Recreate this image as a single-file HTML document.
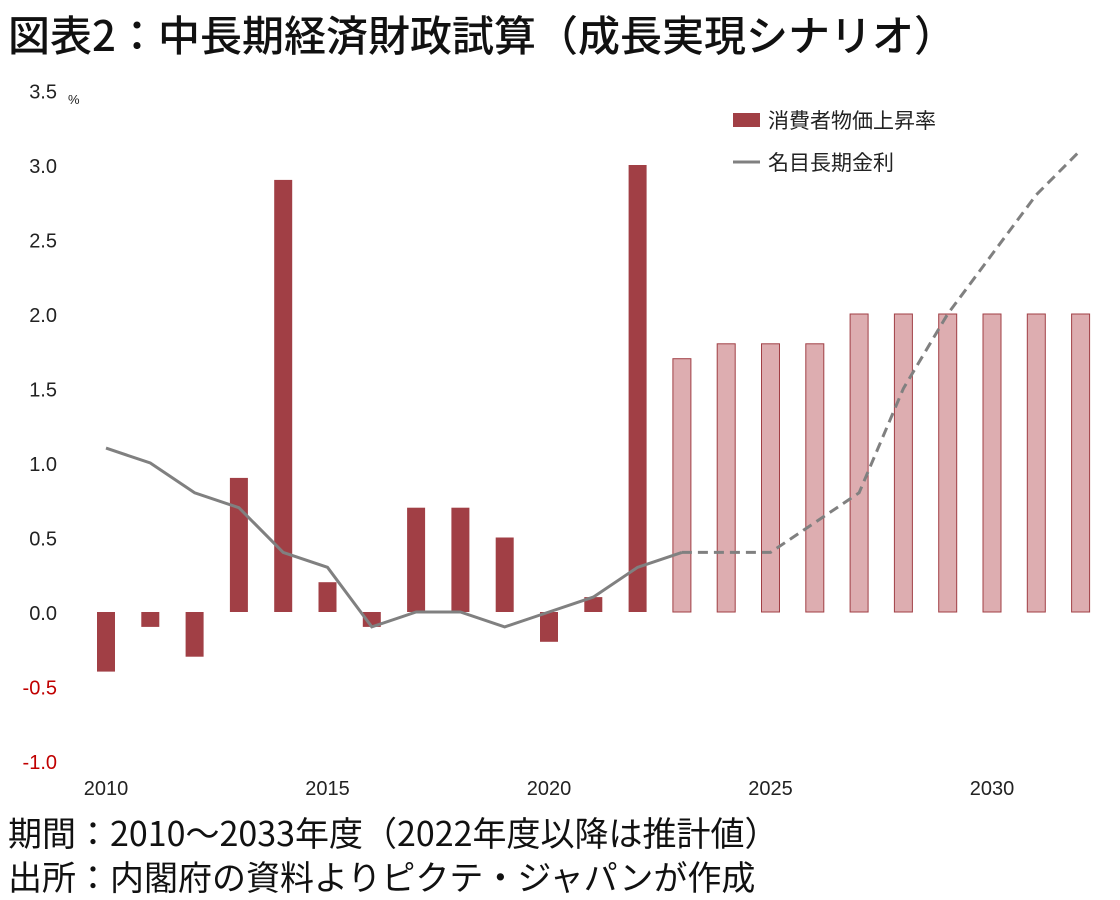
<!DOCTYPE html>
<html><head><meta charset="utf-8">
<style>
body{margin:0;background:#fff;width:1120px;height:900px;overflow:hidden;font-family:"Liberation Sans","Noto Sans CJK JP",sans-serif;}
.t{position:absolute;left:8px;top:4px;font-size:42px;font-weight:500;color:#111;white-space:nowrap;font-family:"Noto Sans CJK JP",sans-serif;line-height:60px}
.f{position:absolute;left:8px;font-size:34px;color:#111;white-space:nowrap;font-family:"Noto Sans CJK JP",sans-serif;line-height:44px}
</style></head><body>
<div class="t">図表2：中長期経済財政試算（成長実現シナリオ）</div>
<svg id="c" width="1120" height="800" style="position:absolute;left:0;top:0"></svg>
<div class="f" style="top:810px">期間：2010～2033年度（2022年度以降は推計値）</div>
<div class="f" style="top:854px">出所：内閣府の資料よりピクテ・ジャパンが作成</div>
<script>
const years=[2010,2011,2012,2013,2014,2015,2016,2017,2018,2019,2020,2021,2022,2023,2024,2025,2026,2027,2028,2029,2030,2031,2032];
const cpi=[-0.4,-0.1,-0.3,0.9,2.9,0.2,-0.1,0.7,0.7,0.5,-0.2,0.1,3.0,1.7,1.8,1.8,1.8,2.0,2.0,2.0,2.0,2.0,2.0];
const rate=[1.1,1.0,0.8,0.7,0.4,0.3,-0.1,0.0,0.0,-0.1,0.0,0.1,0.3,0.4,0.4,0.4,0.6,0.8,1.5,2.0,2.4,2.8,3.1];
const yTicks=[3.5,3.0,2.5,2.0,1.5,1.0,0.5,0.0,-0.5,-1.0];
const xTicks=[2010,2015,2020,2025,2030];
const estStart=2023;
const NS="http://www.w3.org/2000/svg",svg=document.getElementById('c');
const X=y=>106+(y-2010)*44.3, Y=v=>612-v*149;
function mk(t,a,txt){const e=document.createElementNS(NS,t);for(const k in a)e.setAttribute(k,a[k]);if(txt!=null)e.textContent=txt;svg.appendChild(e);return e;}
yTicks.forEach(v=>{const e=mk('text',{x:57,y:Y(v)+8,'text-anchor':'end','font-size':20,fill:v<0?'#c00000':'#222'},v.toFixed(1));

});
const pc=mk('text',{x:68,y:104,'font-size':13,fill:'#222'},'%');


xTicks.forEach(v=>{const e=mk('text',{x:X(v),y:795,'text-anchor':'middle','font-size':20,fill:'#222'},String(v));

});
years.forEach((yr,i)=>{const v=cpi[i],est=yr>=estStart;
const r=mk('rect',{x:X(yr)-9,y:Math.min(Y(v),Y(0)),width:18,height:Math.abs(Y(v)-Y(0)),fill:est?'#ddadb0':'#a13f45',stroke:est?'#a13f45':'none','stroke-width':1});

});
let s='',d='';
years.forEach((yr,i)=>{const p=X(yr)+','+Y(rate[i]);if(yr<=estStart)s+=(s?' L':'M')+p;if(yr>=estStart)d+=(d?' L':'M')+p;});
const l1=mk('path',{d:s,fill:'none',stroke:'#808080','stroke-width':3});


const l2=mk('path',{d:d,fill:'none',stroke:'#808080','stroke-width':3,'stroke-dasharray':'10,6'});


const ls=mk('rect',{x:733,y:113,width:27,height:14,fill:'#a13f45'});


const lt=mk('text',{x:768,y:128,'font-size':21,fill:'#222'},'消費者物価上昇率');


const ll=mk('line',{x1:733,y1:162,x2:760,y2:162,stroke:'#808080','stroke-width':3});


const lt2=mk('text',{x:768,y:170,'font-size':21,fill:'#222'},'名目長期金利');


</script>
</body></html>
